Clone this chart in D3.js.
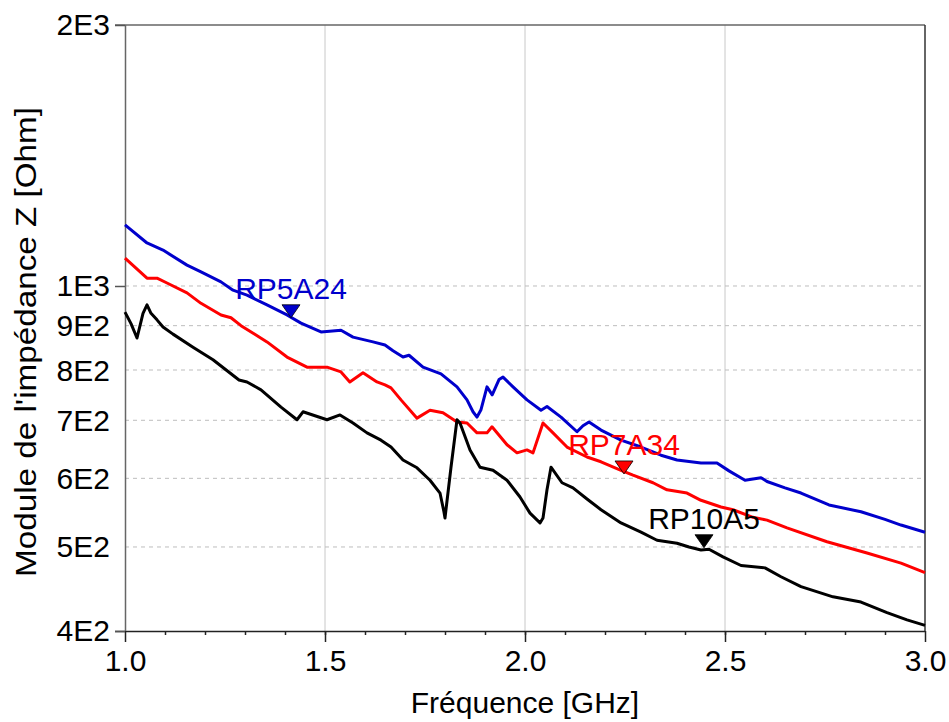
<!DOCTYPE html>
<html>
<head>
<meta charset="utf-8">
<script src="https://cdn.jsdelivr.net/npm/d3@7"></script>
<style>
  body { margin: 0; background: #fff; }
  svg { display: block; font-family: Arial, "Liberation Sans", sans-serif; }
</style>
</head>
<body>
<svg width="949" height="722"></svg>
<script>
const blueFreq = [1.000,1.055,1.095,1.155,1.19,1.24,1.27,1.305,1.355,1.405,1.44,1.49,1.54,1.57,1.62,1.65,1.67,1.695,1.71,1.745,1.79,1.83,1.855,1.87,1.88,1.89,1.905,1.918,1.935,1.945,1.97,2.005,2.04,2.055,2.09,2.13,2.145,2.16,2.19,2.24,2.29,2.34,2.38,2.44,2.48,2.51,2.55,2.59,2.605,2.65,2.69,2.76,2.84,2.9,2.94,3.0];
const blueZ = [1176,1121,1100,1057,1038,1011,989,976,951,926,906,885,889,873,862,855,842,828,832,806,792,765,739,716,706,720,765,749,780,785,765,739,719,726,706,679,690,697,682,664,652,638,630,625,625,612,597,601,595,585,577,559,549,538,530,520];

const redFreq = [1.0,1.055,1.08,1.105,1.155,1.19,1.24,1.265,1.29,1.355,1.405,1.455,1.505,1.54,1.562,1.595,1.63,1.65,1.665,1.69,1.73,1.7625,1.795,1.83,1.855,1.88,1.905,1.9175,1.955,1.98,2.005,2.02,2.045,2.07,2.105,2.155,2.19,2.24,2.27,2.32,2.355,2.405,2.44,2.49,2.52,2.57,2.605,2.655,2.755,2.855,2.94,3.0];
const redZ = [1077,1021,1021,1008,982,955,926,919,900,862,828,806,806,796,775,794,775,769,763,739,704,719,714,697,695,677,677,688,656,642,647,642,695,677,652,635,627,613,605,593,582,577,566,556,552,541,537,526,507,492,479,467];

const blackFreq = [1.0,1.015,1.03,1.045,1.055,1.065,1.08,1.095,1.12,1.17,1.22,1.285,1.305,1.34,1.39,1.43,1.445,1.505,1.5375,1.57,1.605,1.64,1.665,1.695,1.73,1.7625,1.7875,1.797,1.80,1.805,1.815,1.83,1.8375,1.8625,1.8875,1.92,1.955,1.9875,2.0125,2.0375,2.045,2.055,2.065,2.0925,2.12,2.155,2.19,2.24,2.29,2.33,2.38,2.41,2.44,2.46,2.495,2.54,2.6,2.64,2.69,2.77,2.84,2.905,2.955,3.0];
const blackZ = [933,905,871,930,951,930,914,897,880,850,822,779,775,759,725,701,716,701,710,695,677,664,652,630,617,597,577,550,540,565,618,701,695,647,618,613,597,571,547,533,540,582,618,593,585,568,552,533,520,509,505,500,496,497,487,476,473,462,450,438,432,420,412,406];

const markerLabels = ['RP5A24', 'RP7A34', 'RP10A5'];
const markerFreq = [1.415, 2.2475, 2.4475];
const markerZ = [919, 607, 499];
const seriesColors = ['#0000cc', '#ff0000', '#000000'];

const xMajor = [1.0, 1.5, 2.0, 2.5, 3.0];
const xMinor = d3.range(11, 30).map(d => d / 10);
const yTickValues = [400, 500, 600, 700, 800, 900, 1000, 2000];
const yTickLabels = ['4E2', '5E2', '6E2', '7E2', '8E2', '9E2', '1E3', '2E3'];
const yGrid = [500, 600, 700, 800, 900, 1000];
const yMajor = [400, 1000, 2000];

const plotLeft = 125, plotRight = 925, plotTop = 25, plotBottom = 631;

const svg = d3.select('svg');

const x = d3.scaleLinear().domain([1, 3]).range([plotLeft, plotRight]);
const y = d3.scaleLog().domain([400, 2000]).range([plotBottom, plotTop]);

// grid
svg.append('g').selectAll('line').data([1.5, 2.0, 2.5])
    .enter().append('line')
    .attr('x1', d => x(d)).attr('x2', d => x(d))
    .attr('y1', plotTop).attr('y2', plotBottom)
    .attr('stroke', '#c8c8c8').attr('stroke-width', 1);

svg.append('g').selectAll('line').data(yGrid)
    .enter().append('line')
    .attr('x1', plotLeft).attr('x2', plotRight)
    .attr('y1', d => y(d)).attr('y2', d => y(d))
    .attr('stroke', '#bdbdbd').attr('stroke-width', 1)
    .attr('stroke-dasharray', '4,4');

// frame
svg.append('line').attr('x1', plotLeft - 10).attr('x2', plotRight).attr('y1', plotTop).attr('y2', plotTop)
    .attr('stroke', '#666').attr('stroke-width', 1.5);
svg.append('line').attr('x1', plotRight).attr('x2', plotRight).attr('y1', plotTop).attr('y2', plotBottom)
    .attr('stroke', '#333').attr('stroke-width', 1.5);

// x axis
const xMinorAxis = svg.append('g')
    .attr('transform', `translate(0, ${plotBottom})`)
    .call(d3.axisBottom(x).tickValues(xMinor).tickSize(4).tickFormat(''));
xMinorAxis.select('.domain').remove();

const xAxis = svg.append('g')
    .attr('transform', `translate(0, ${plotBottom})`)
    .call(d3.axisBottom(x).tickValues(xMajor).tickSize(11).tickPadding(8).tickFormat(d3.format('.1f')));
xAxis.select('.domain').attr('d', `M${plotLeft - 10},0.5H${plotRight}`);
xAxis.selectAll('text').attr('font-size', 30).attr('fill', '#000');
svg.selectAll('.tick line').attr('stroke', '#222').attr('stroke-width', 1.5);
xAxis.select('.domain').attr('stroke', '#222').attr('stroke-width', 1.5);

// y axis
const yAxis = svg.append('g')
    .attr('transform', `translate(${plotLeft}, 0)`)
    .call(d3.axisLeft(y).tickValues(yMajor).tickSize(10).tickPadding(5)
        .tickFormat(d => yTickLabels[yTickValues.indexOf(d)]));
yAxis.select('.domain').attr('d', `M0.5,${plotTop}V${plotBottom}`).attr('stroke', '#666').attr('stroke-width', 1.5);
yAxis.selectAll('.tick line').attr('stroke', '#555').attr('stroke-width', 1.5);
yAxis.selectAll('text').attr('font-size', 30).attr('fill', '#000');

svg.append('g').selectAll('text').data(yTickValues.filter(d => yMajor.indexOf(d) < 0))
    .enter().append('text')
    .attr('x', plotLeft - 15)
    .attr('y', d => y(d))
    .attr('dy', '0.35em')
    .attr('text-anchor', 'end')
    .attr('font-size', 30)
    .text(d => yTickLabels[yTickValues.indexOf(d)]);

// titles
svg.append('text')
    .attr('x', x(2))
    .attr('y', 713)
    .attr('text-anchor', 'middle')
    .attr('font-size', 30)
    .text('Fréquence [GHz]');

svg.append('text')
    .attr('transform', 'translate(36, 342) rotate(-90)')
    .attr('text-anchor', 'middle')
    .attr('font-size', 30)
    .attr('textLength', 470)
    .attr('lengthAdjust', 'spacingAndGlyphs')
    .text("Module de l'impédance Z [Ohm]");

// curves
const series = [
    { f: blueFreq, z: blueZ, color: seriesColors[0] },
    { f: redFreq, z: redZ, color: seriesColors[1] },
    { f: blackFreq, z: blackZ, color: seriesColors[2] }
];

const line = d3.line()
    .x(d => x(d[0]))
    .y(d => y(d[1]));

svg.append('g').selectAll('path').data(series)
    .enter().append('path')
    .attr('d', s => line(s.f.map((f, i) => [f, s.z[i]])))
    .attr('fill', 'none')
    .attr('stroke', s => s.color)
    .attr('stroke-width', 3)
    .attr('stroke-linejoin', 'round');

// markers
const marker = svg.append('g').selectAll('g').data(markerLabels)
    .enter().append('g')
    .attr('transform', (d, i) => `translate(${x(markerFreq[i])}, ${y(markerZ[i])})`);

marker.append('path')
    .attr('d', 'M0,0L-9,-13L9,-13Z')
    .attr('fill', (d, i) => seriesColors[i])
    .attr('stroke', '#000')
    .attr('stroke-width', 0.8);

marker.append('text')
    .attr('y', -19)
    .attr('text-anchor', 'middle')
    .attr('font-size', 30)
    .attr('fill', (d, i) => seriesColors[i])
    .text(d => d);
</script>
</body>
</html>
